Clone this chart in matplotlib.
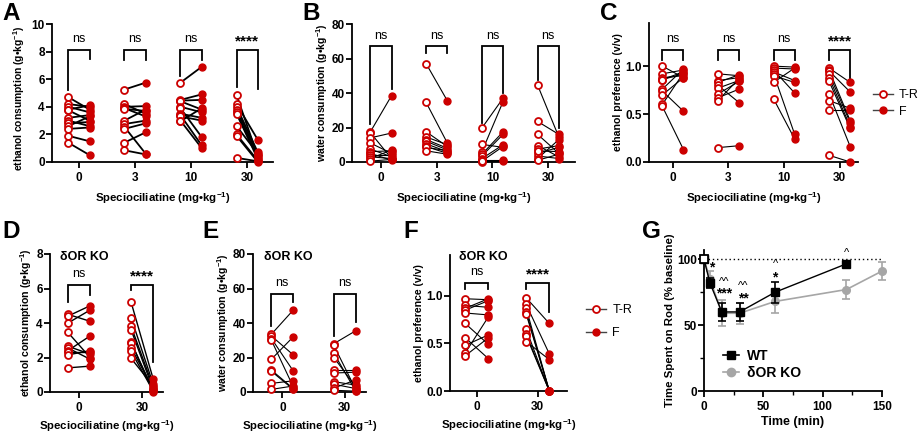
import matplotlib
matplotlib.use('Agg')
import matplotlib.pyplot as plt
from matplotlib.lines import Line2D

# ---------------- data ----------------
doses_abc = ['0', '3', '10', '30']
doses_def = ['0', '30']

A_tr = [[4.7, 4.2, 4.0, 3.8, 3.75, 3.2, 3.0, 2.8, 2.6, 2.4, 1.9, 1.4],
        [5.25, 4.2, 4.0, 3.9, 3.85, 3.0, 2.75, 2.55, 2.4, 1.4, 0.85],
        [5.75, 4.5, 4.45, 4.4, 4.0, 3.9, 3.5, 3.4, 3.3, 3.0, 2.95],
        [4.85, 4.2, 4.0, 3.8, 3.6, 3.5, 2.6, 2.0, 1.9, 0.3]]
A_f = [[3.8, 4.0, 3.6, 4.1, 3.0, 3.4, 2.6, 2.9, 3.3, 2.5, 1.5, 0.5],
       [5.75, 3.5, 4.05, 3.3, 3.7, 3.8, 3.0, 0.6, 2.8, 2.15, 0.55],
       [6.9, 4.9, 4.5, 3.8, 3.6, 1.8, 3.2, 1.2, 3.0, 1.0, 3.9],
       [0.4, 1.6, 0.7, 0.5, 0.3, 0.2, 0.6, 0.1, 0.0, 0.05]]

B_tr = [[17.5, 17.0, 14.0, 11.0, 7.5, 6.0, 5.0, 4.0, 3.0, 2.0, 0.5],
        [57, 34.5, 17.5, 14.5, 13, 12, 10.5, 9, 8.5, 6.5],
        [19.7, 10.2, 6, 4.5, 3.5, 2, 1, 0.2, 0.5],
        [44.5, 23.5, 16, 9.5, 7.5, 5, 3.5, 2, 1, 6.5]]
B_f = [[38.5, 2.0, 16.8, 5.0, 3.0, 6.5, 1.0, 4.0, 2.0, 7.0, 1.5],
       [35.5, 11, 9, 10, 8, 7, 6, 5, 6.5, 4.5],
       [37, 8.5, 35, 17.5, 16, 10, 1, 0.3, 9],
       [14.5, 16, 5, 3, 9.5, 8.5, 2, 13, 4.5, 6]]

C_tr = [[1.0, 0.92, 0.88, 0.86, 0.86, 0.76, 0.74, 0.70, 0.60, 0.58],
        [0.92, 0.85, 0.83, 0.80, 0.77, 0.71, 0.67, 0.64, 0.15],
        [1.0, 0.98, 0.96, 0.94, 0.92, 0.90, 0.83, 0.66],
        [0.98, 0.96, 0.95, 0.92, 0.88, 0.84, 0.71, 0.64, 0.54, 0.07]]
C_f = [[0.88, 0.96, 0.90, 0.94, 0.92, 0.97, 0.53, 0.88, 0.93, 0.13],
       [0.90, 0.88, 0.91, 0.62, 0.85, 0.84, 0.76, 0.87, 0.17],
       [0.99, 0.97, 0.72, 0.85, 0.29, 0.83, 0.98, 0.24],
       [0.83, 0.43, 0.73, 0.41, 0.37, 0.35, 0.16, 0.56, 0.54, 0.0]]

D_tr = [[4.5, 4.4, 4.0, 3.45, 2.65, 2.55, 2.4, 2.3, 2.15, 1.4],
        [5.2, 4.3, 3.8, 3.6, 2.9, 2.85, 2.55, 2.35, 1.95]]
D_f = [[4.1, 5.0, 4.75, 2.0, 2.2, 1.9, 3.25, 2.3, 2.4, 1.5],
       [0.75, 0.45, 0.3, 0.15, 0.0, 0.1, 0.2, 0.05, 0.35]]

E_tr = [[33.5, 32.5, 31, 30, 19, 12.7, 12, 5, 1.5],
        [28, 27, 22.5, 20, 12.5, 11, 6, 4.5, 2.3, 1]]
E_f = [[47.5, 21.5, 12.2, 3.0, 32, 2.0, 1.5, 6.5, 3.5],
       [35.5, 1.5, 0.5, 3.0, 12.5, 11.5, 4.0, 2.0, 7.0, 0.5]]

F_tr = [[0.97, 0.90, 0.87, 0.85, 0.82, 0.71, 0.56, 0.48, 0.40, 0.37],
        [0.98, 0.91, 0.87, 0.83, 0.81, 0.65, 0.60, 0.58, 0.52]]
F_f = [[0.96, 0.88, 0.97, 0.95, 0.80, 0.49, 0.34, 0.59, 0.78, 0.56],
       [0.71, 0.39, 0.0, 0.0, 0.0, 0.0, 0.0, 0.0, 0.33]]

A_sig = ['ns', 'ns', 'ns', '****']
B_sig = ['ns', 'ns', 'ns', 'ns']
C_sig = ['ns', 'ns', 'ns', '****']
D_sig = ['ns', '****']
E_sig = ['ns', 'ns']
F_sig = ['ns', '****']

G_time_wt = [0, 5, 15, 30, 60, 120]
G_wt = [100, 82, 60, 60, 75, 96.5]
G_wt_err = [0, 4, 7, 7, 8, 0]
G_time_ko = [0, 5, 15, 30, 60, 120, 150]
G_ko = [100, 85, 59, 59, 68, 77, 91]
G_ko_err = [0, 6, 10, 8, 9, 7, 7]

# ---------------- style ----------------
FAM = 'Liberation Sans'
plt.rcParams.update({
    'font.family': [FAM, 'DejaVu Sans'],
    'font.size': 9,
    'font.weight': 'bold',
    'axes.labelweight': 'bold',
    'axes.linewidth': 1.3,
    'xtick.labelsize': 8.5, 'ytick.labelsize': 8.5,
    'xtick.major.width': 1.3, 'ytick.major.width': 1.3,
    'xtick.major.size': 4, 'ytick.major.size': 4,
    'xtick.minor.width': 1.0, 'ytick.minor.width': 1.0,
    'xtick.minor.size': 3, 'ytick.minor.size': 3,
    'xtick.major.pad': 3, 'ytick.major.pad': 1.2,
    'mathtext.fontset': 'custom',
    'mathtext.rm': FAM + ':bold',
    'mathtext.it': FAM + ':bold',
    'mathtext.bf': FAM + ':bold',
    'mathtext.default': 'rm',
})
RED = '#CC0000'
W, H = 920, 433
fig = plt.figure(figsize=(W / 100, H / 100), dpi=100)


def px_axes(l, r, t, b):
    ax = fig.add_axes([l / W, 1 - b / H, (r - l) / W, (b - t) / H])
    ax.spines['top'].set_visible(False)
    ax.spines['right'].set_visible(False)
    return ax


def paired(ax, tr, f, off, lw):
    for i, (t, ff) in enumerate(zip(tr, f)):
        x0, x1 = i - off, i + off
        for a, b in zip(t, ff):
            ax.plot([x0, x1], [a, b], color='k', lw=lw, zorder=2, clip_on=False)
        ax.plot([x0] * len(t), t, 'o', mfc='white', mec=RED, mew=1.3, ms=5,
                ls='none', zorder=3, clip_on=False)
        ax.plot([x1] * len(ff), ff, 'o', color=RED, ms=5, ls='none',
                zorder=3, clip_on=False)


def brackets(ax, sig, off, top, legs, pad):
    for i, (s, (lb, rb)) in enumerate(zip(sig, legs)):
        x0, x1 = i - off, i + off
        ax.plot([x0, x0, x1, x1], [lb, top, top, rb], color='k', lw=1.3,
                zorder=2, solid_joinstyle='miter')
        if s == 'ns':
            ax.text(i, top + pad, s, ha='center', va='bottom',
                    fontsize=9, fontweight='normal')
        else:
            ax.text(i, top + pad * 0.3, s, ha='center', va='bottom',
                    fontsize=11, fontweight='bold')


xl = 'Speciociliatine (mg•kg$^{-1}$)'
YL = 7.6
XL = 8.2

# ---- A ----
axA = px_axes(52, 273, 24, 162)
paired(axA, A_tr, A_f, 0.19, 1.3)
brackets(axA, A_sig, 0.19, 8.1, [(5.2, 7.5), (7.4, 7.4), (6.2, 7.4), (5.4, 5.3)], 0.35)
axA.set_xlim(-0.48, 3.46)
axA.set_ylim(0, 10)
axA.set_yticks([0, 2, 4, 6, 8, 10])
axA.set_xticks(range(4))
axA.set_xticklabels(doses_abc)
axA.set_ylabel('ethanol consumption (g•kg$^{-1}$)', fontsize=7.4, labelpad=1.5)
axA.yaxis.set_label_coords(-0.115, 0.46)
axA.set_xlabel(xl, labelpad=5, fontsize=XL)

# ---- B ----
axB = px_axes(352, 575, 24, 162)
paired(axB, B_tr, B_f, 0.19, 0.8)
brackets(axB, B_sig, 0.19, 67, [(22, 42.5), (63, 63), (22.5, 40), (47.5, 19.5)], 2.5)
axB.set_xlim(-0.52, 3.48)
axB.set_ylim(0, 80)
axB.set_yticks([0, 20, 40, 60, 80])
axB.set_xticks(range(4))
axB.set_xticklabels(doses_abc)
axB.set_ylabel('water consumption (g•kg$^{-1}$)', fontsize=YL, labelpad=1.5)
axB.set_xlabel(xl, labelpad=5, fontsize=XL)

# ---- C ----
axC = px_axes(649, 858, 23, 162)
paired(axC, C_tr, C_f, 0.19, 0.8)
brackets(axC, C_sig, 0.19, 1.17, [(1.06, 1.06), (1.06, 1.06), (1.06, 1.06), (1.06, 0.87)], 0.05)
axC.set_xlim(-0.43, 3.33)
axC.set_ylim(0, 1.45)
axC.set_yticks([0, 0.5, 1.0])
axC.set_yticklabels(['0.0', '0.5', '1.0'])
axC.set_xticks(range(4))
axC.set_xticklabels(doses_abc)
axC.set_ylabel('ethanol preference (v/v)', fontsize=YL, labelpad=1.5)
axC.set_xlabel(xl, labelpad=5, fontsize=XL)

leg_handles = [Line2D([0], [0], color='#444444', lw=1, marker='o', mfc='white',
                      mec=RED, mew=1.3, ms=5),
               Line2D([0], [0], color='#444444', lw=1, marker='o', mfc=RED,
                      mec=RED, ms=5)]
axC.legend(leg_handles, ['T-R', 'F'], loc='center left', bbox_to_anchor=(1.04, 0.42),
           frameon=False, prop={'weight': 'normal', 'size': 9}, handlelength=1.6,
           labelspacing=0.35, handletextpad=0.5, borderpad=0)

# ---- D ----
axD = px_axes(50, 163, 254, 392)
paired(axD, D_tr, D_f, 0.175, 1.0)
brackets(axD, D_sig, 0.175, 6.2, [(5.2, 5.65), (5.9, 1.75)], 0.3)
axD.set_xlim(-0.46, 1.33)
axD.set_ylim(0, 8)
axD.set_yticks([0, 2, 4, 6, 8])
axD.set_xticks(range(2))
axD.set_xticklabels(doses_def)
axD.set_ylabel('ethanol consumption (g•kg$^{-1}$)', fontsize=YL, labelpad=1.5)
axD.set_xlabel(xl, labelpad=3, fontsize=XL)
axD.text(-0.3, 7.85, 'δOR KO', fontsize=9, fontweight='bold', va='center')

# ---- E ----
axE = px_axes(253, 366, 254, 392)
paired(axE, E_tr, E_f, 0.175, 0.8)
brackets(axE, E_sig, 0.175, 57, [(38.5, 52), (32.5, 40.5)], 2.5)
axE.set_xlim(-0.47, 1.34)
axE.set_ylim(0, 80)
axE.set_yticks([0, 20, 40, 60, 80])
axE.set_xticks(range(2))
axE.set_xticklabels(doses_def)
axE.set_ylabel('water consumption (g•kg$^{-1}$)', fontsize=YL, labelpad=1.5)
axE.set_xlabel(xl, labelpad=3, fontsize=XL)
axE.text(-0.3, 78, 'δOR KO', fontsize=9, fontweight='bold', va='center')

# ---- F ----
axF = px_axes(450, 567, 255, 391)
paired(axF, F_tr, F_f, 0.19, 0.8)
brackets(axF, F_sig, 0.19, 1.14, [(1.07, 1.07), (1.07, 0.83)], 0.05)
axF.set_xlim(-0.44, 1.48)
axF.set_ylim(0, 1.43)
axF.set_yticks([0, 0.5, 1.0])
axF.set_yticklabels(['0.0', '0.5', '1.0'])
axF.set_xticks(range(2))
axF.set_xticklabels(doses_def)
axF.set_ylabel('ethanol preference (v/v)', fontsize=YL, labelpad=1.5)
axF.set_xlabel(xl, labelpad=3, fontsize=XL)
axF.text(-0.3, 1.41, 'δOR KO', fontsize=9, fontweight='bold', va='center')
axF.legend(leg_handles, ['T-R', 'F'], loc='center left', bbox_to_anchor=(1.11, 0.51),
           frameon=False, prop={'weight': 'normal', 'size': 9}, handlelength=1.6,
           labelspacing=0.9, handletextpad=0.5, borderpad=0)

# ---- G ----
axG = px_axes(704, 882, 250, 391)
GREY = '#A6A6A6'
axG.plot([0, 150], [100, 100], ls=(0, (1, 2)), color='k', lw=1, zorder=1)
axG.errorbar(G_time_ko, G_ko, yerr=G_ko_err, color=GREY, marker='o', ms=5.5,
             lw=1.2, capsize=3, elinewidth=1.2, capthick=1.2, zorder=2, clip_on=False)
axG.errorbar(G_time_wt, G_wt, yerr=G_wt_err, color='k', marker='s', ms=5.5,
             lw=1.0, capsize=3, elinewidth=1.2, capthick=1.2, zorder=3, clip_on=False)
axG.plot([G_time_wt[0]], [G_wt[0]], 's', mfc='white', mec='k', mew=1.3, ms=6,
         zorder=4, clip_on=False)
axG.set_xlim(0, 150)
axG.set_ylim(0, 107)
axG.set_xticks([0, 50, 100, 150])
axG.set_xticks([25, 75, 125], minor=True)
axG.set_yticks([0, 50, 100])
axG.set_yticks([25, 75], minor=True)
axG.set_xlabel('Time (min)', fontsize=9, labelpad=2)
axG.set_ylabel('Time Spent on Rod (% baseline)', fontsize=8.2, labelpad=1.5)
G_marks = [(6.8, 94, '*'), (17, 83, '^^'), (17, 74, '***'), (33, 80, '^^'),
           (33, 70, '**'), (60, 96, '^'), (60, 86, '*'), (120, 105, '^')]
for x, y, s in G_marks:
    axG.text(x, y, s, ha='center', va='center', fontsize=10 if '*' in s else 8,
             fontweight='normal' if '^' in s else 'bold')
g_handles = [Line2D([0], [0], color='k', lw=1.2, marker='s', ms=6),
             Line2D([0], [0], color=GREY, lw=1.2, marker='o', ms=6)]
axG.legend(g_handles, ['WT', 'δOR KO'], loc='center left', bbox_to_anchor=(0.07, 0.19),
           frameon=False, prop={'weight': 'bold', 'size': 10}, handlelength=1.1,
           labelspacing=0.2, handletextpad=0.6, borderpad=0)

# ---- panel letters ----
for lbl, x, y in [('A', 2, 2), ('B', 302, 2), ('C', 600, 2),
                  ('D', 2, 220), ('E', 202, 220), ('F', 403, 220), ('G', 642, 220)]:
    fig.text(x / W, 1 - y / H, lbl, fontsize=17.5, fontweight='bold', va='top', ha='left')

fig.savefig('out.png', dpi=100)
